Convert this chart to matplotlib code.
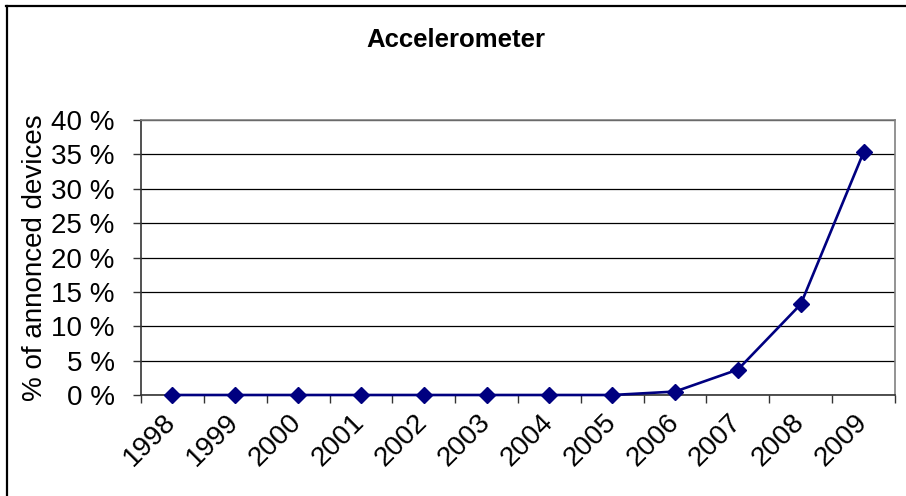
import matplotlib.pyplot as plt
import matplotlib.transforms as mtransforms
from matplotlib.lines import Line2D
from matplotlib.ticker import FuncFormatter, FixedLocator

plt.rcParams['font.family'] = ['Liberation Sans', 'DejaVu Sans']

years = ['1998', '1999', '2000', '2001', '2002', '2003',
         '2004', '2005', '2006', '2007', '2008', '2009']
share = [0, 0, 0, 0, 0, 0, 0, 0, 0.5, 3.7, 13.2, 35.3]

fig = plt.figure(figsize=(9.06, 4.96), dpi=100)
ax = fig.add_axes([141 / 906, 1 - 395 / 496, (895 - 141) / 906, (395 - 120) / 496])

x = list(range(len(years)))
ax.plot(x, share, color='#000080', lw=1.9, marker='D', markersize=8.5,
        markerfacecolor='#000080', markeredgecolor='#000080', zorder=3,
        clip_on=False)

ax.set_xlim(-0.5, len(years) - 0.5)
ax.set_ylim(0, 40)
ax.set_yticks(range(0, 41, 5))
ax.yaxis.set_major_formatter(FuncFormatter(lambda v, p: '%d %%' % v))
ax.grid(axis='y', color='black', lw=0.9)
ax.set_axisbelow(True)

# category ticks between years, labels at centers
ax.xaxis.set_major_locator(FixedLocator([i - 0.5 for i in range(len(years) + 1)]))
ax.xaxis.set_major_formatter(FuncFormatter(lambda v, p: ''))
ax.xaxis.set_minor_locator(FixedLocator(x))
ax.set_xticklabels(years, minor=True)
ax.tick_params(axis='x', which='major', direction='out', length=6, width=1, color='#333333')
ax.tick_params(axis='x', which='minor', length=0, pad=10, labelsize=20)
ax.tick_params(axis='y', direction='out', length=6, width=1, color='#333333',
               pad=13, labelsize=20)
offset = mtransforms.ScaledTranslation(9 / 100, 0, fig.dpi_scale_trans)
for lbl in ax.xaxis.get_minorticklabels():
    lbl.set_rotation(45)
    lbl.set_ha('right')
    lbl.set_va('top')
    lbl.set_transform(lbl.get_transform() + offset)

for side in ['top', 'right']:
    ax.spines[side].set_color('#808080')
    ax.spines[side].set_linewidth(1.2)
for side in ['left', 'bottom']:
    ax.spines[side].set_color('#333333')
    ax.spines[side].set_linewidth(1.2)

ax.set_ylabel('% of annonced devices', fontsize=20, labelpad=2)
fig.text(456 / 906, 1 - 47 / 496, 'Accelerometer', ha='center', va='baseline',
         fontsize=18.5, fontweight='bold')

# outer chart frame (top and left edges)
fig.add_artist(Line2D([6 / 906, 1], [1 - 6 / 496, 1 - 6 / 496],
                      transform=fig.transFigure, color='black', lw=1.6))
fig.add_artist(Line2D([7 / 906, 7 / 906], [0, 1 - 6 / 496],
                      transform=fig.transFigure, color='black', lw=1.6))

fig.savefig('out.png', dpi=100)
